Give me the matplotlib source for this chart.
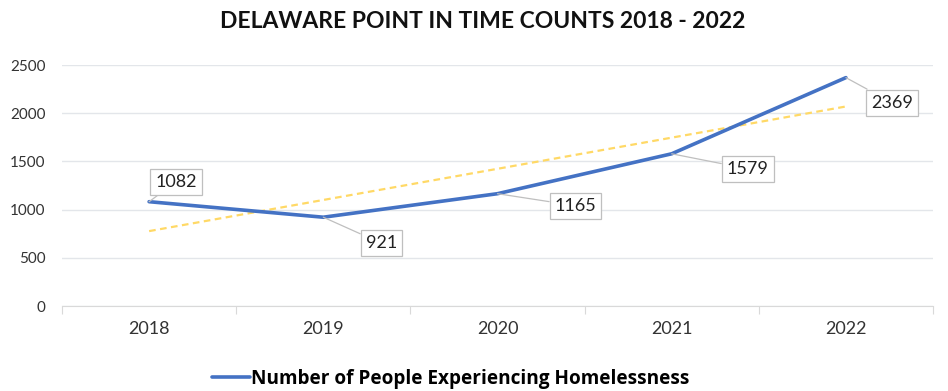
import numpy as np
import matplotlib.pyplot as plt

# data
years = ['2018', '2019', '2020', '2021', '2022']
counts = [1082, 921, 1165, 1579, 2369]
# label box offsets from the point, in pixels
label_offsets = [(27, 20), (58, -26), (78, -12), (76, -15), (46, -25)]

plt.rcParams['font.family'] = ['Lato', 'DejaVu Sans']

fig = plt.figure(figsize=(9.48, 3.91), dpi=100)
ax = fig.add_axes([62 / 948, 1 - 306 / 391, (933 - 62) / 948, (306 - 65) / 391])

x = np.arange(len(years))
line, = ax.plot(x, counts, color='#4472C4', lw=2.6, solid_capstyle='round',
                label='Number of People Experiencing Homelessness', zorder=3)

# linear trendline, like Excel's
slope, icpt = np.polyfit(x, counts, 1)
ax.plot(x, slope * x + icpt, color='#FFD966', lw=1.6, ls=(0, (3, 2)), zorder=2)

for xi, v, off in zip(x, counts, label_offsets):
    ax.annotate(str(v), (xi, v), xytext=off, textcoords='offset pixels',
                ha='center', va='center', fontsize=13, color='#222222',
                bbox=dict(boxstyle='square,pad=0.28', fc='white', ec='#bfbfbf', lw=0.9),
                arrowprops=dict(arrowstyle='-', color='#bfbfbf', lw=0.9,
                                shrinkA=0, shrinkB=0), zorder=4)

ax.set_xlim(-0.5, len(years) - 0.5)
ax.set_ylim(0, 2500)
ax.set_yticks(range(0, 2501, 500))
ax.set_xticks(x)
ax.set_xticklabels(years)
ax.set_xticks(np.arange(-0.5, len(years), 1), minor=True)
ax.tick_params(axis='x', which='major', length=0, pad=11, labelsize=13, labelcolor='#333333')
ax.tick_params(axis='x', which='minor', length=6, color='#d9d9d9', width=0.8)
ax.tick_params(axis='y', length=0, pad=12, labelsize=11, labelcolor='#333333')

ax.grid(axis='y', color='#e3e6ea', lw=1)
ax.set_axisbelow(True)
for s in ['top', 'right', 'left']:
    ax.spines[s].set_visible(False)
ax.spines['bottom'].set_color('#d9d9d9')

fig.text(483 / 948, 1 - 22 / 391, 'DELAWARE POINT IN TIME COUNTS 2018 - 2022',
         ha='center', va='center', fontsize=16.5, fontweight='bold', color='#111111')

fig.legend(handles=[line], loc='center', bbox_to_anchor=(451 / 948, 1 - 379 / 391),
           frameon=False, prop={'family': 'Open Sans', 'weight': 'bold', 'size': 13.7},
           handlelength=2.0, handletextpad=0.05)

fig.savefig('out.png', dpi=100)
